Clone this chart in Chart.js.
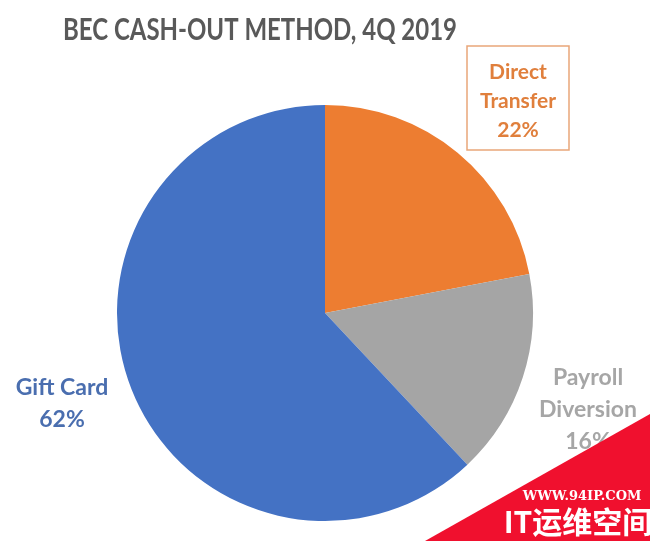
<!DOCTYPE html>
<html>
<head>
<meta charset="utf-8">
<script src="https://cdn.jsdelivr.net/npm/chart.js@4.4.1/dist/chart.umd.min.js"></script>
<style>
  html, body { margin: 0; padding: 0; background: #fff; }
  #wrap { width: 650px; height: 541px; position: relative; }
</style>
</head>
<body>
<div id="wrap"><canvas id="pie"></canvas></div>
<script>
// ---- data ----
const chartTitle = "BEC CASH-OUT METHOD, 4Q 2019";
const categories = ["Direct Transfer", "Payroll Diversion", "Gift Card"];
const shares = [22, 16, 62];
const labelLines = [["Direct", "Transfer"], ["Payroll", "Diversion"], ["Gift Card"]];

// ---- styles ----
const sliceColors = ["#ED7D31", "#A5A5A5", "#4472C4"];
const labelColors = ["#E07F3C", "#A6A6A6", "#4A6EAF"];
const FONT = "Lato, 'Open Sans', sans-serif";

// where each label block sits (centre x, first line y, line height, font size)
const labelSpots = [
  { x: 518, y: 72, lh: 29, size: 21, box: { x: 467, y: 46, w: 102, h: 104 } },
  { x: 588, y: 378, lh: 32, size: 23 },
  { x: 62, y: 388, lh: 32, size: 23 }
];

const decorPlugin = {
  id: 'decor',
  afterDraw(chart) {
    const ctx = chart.ctx;
    ctx.save();
    ctx.textAlign = 'center';
    ctx.textBaseline = 'middle';

    // title: Calibri-like narrow look, squeezed to the reference width
    ctx.fillStyle = '#595959';
    ctx.font = "bold 30px " + FONT;
    const tw = ctx.measureText(chartTitle).width;
    ctx.save();
    ctx.translate(260, 30);
    ctx.scale(394 / tw, 1);
    ctx.fillText(chartTitle, 0, 0);
    ctx.restore();

    // data labels
    chart.data.labels.forEach((name, i) => {
      const s = labelSpots[i];
      const lines = labelLines[i].concat([shares[i] + '%']);
      if (s.box) {
        ctx.strokeStyle = '#E9A679';
        ctx.lineWidth = 1.5;
        ctx.strokeRect(s.box.x, s.box.y, s.box.w, s.box.h);
      }
      ctx.fillStyle = labelColors[i];
      ctx.font = "bold " + s.size + "px " + FONT;
      lines.forEach((ln, k) => ctx.fillText(ln, s.x, s.y + k * s.lh));
    });

    // watermark corner
    ctx.fillStyle = '#F0102E';
    ctx.beginPath();
    ctx.moveTo(650, 414);
    ctx.lineTo(650, 541);
    ctx.lineTo(425, 541);
    ctx.closePath();
    ctx.fill();
    ctx.fillStyle = '#fff';
    ctx.font = "bold 13px 'DejaVu Serif', serif";
    ctx.fillText("WWW.94IP.COM", 582, 497);
    ctx.font = "bold 30px 'Noto Sans CJK SC', sans-serif";
    ctx.fillText("IT运维空间", 578, 522);
    ctx.restore();
  }
};

new Chart(document.getElementById('pie'), {
  type: 'pie',
  data: {
    labels: categories,
    datasets: [{
      data: shares,
      backgroundColor: sliceColors,
      borderColor: sliceColors,
      borderWidth: 0
    }]
  },
  options: {
    responsive: true,
    maintainAspectRatio: false,
    animation: false,
    layout: { padding: { left: 117, right: 117, top: 105, bottom: 20 } },
    plugins: {
      legend: { display: false },
      title: { display: false },
      tooltip: { enabled: false }
    }
  },
  plugins: [decorPlugin]
});
</script>
</body>
</html>
